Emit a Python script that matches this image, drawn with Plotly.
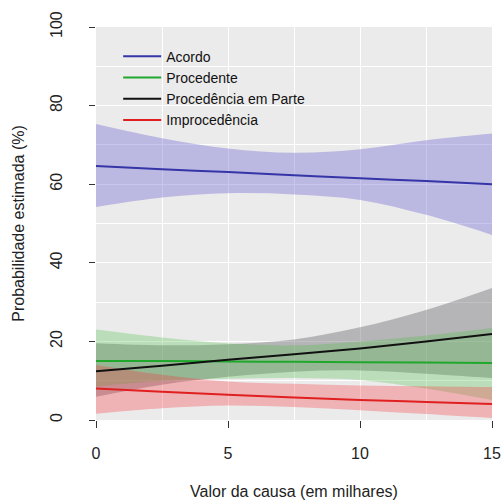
import plotly.graph_objects as go

x_vals = [0, 2.5, 5, 7.5, 10, 12.5, 15]

acordo = [64.6, 63.8, 63.1, 62.3, 61.5, 60.8, 60.0]
acordo_up = [75.3, 71.7, 69.1, 68.0, 68.9, 71.2, 72.9]
acordo_lo = [54.2, 56.6, 57.7, 57.4, 56.0, 52.2, 47.1]

procedente = [15.0, 15.0, 14.9, 14.8, 14.7, 14.6, 14.5]
procedente_up = [23.0, 21.0, 19.5, 19.0, 20.0, 21.5, 23.4]
procedente_lo = [8.5, 10.0, 10.5, 10.7, 10.2, 8.0, 5.1]

parte = [12.4, 13.8, 15.3, 16.7, 18.2, 20.0, 21.9]
parte_up = [19.5, 19.0, 19.3, 20.5, 23.6, 28.0, 33.6]
parte_lo = [5.9, 9.0, 11.0, 12.3, 12.6, 11.8, 10.7]

improc = [8.0, 7.2, 6.4, 5.7, 5.1, 4.6, 4.1]
improc_up = [14.0, 11.5, 9.8, 9.2, 8.8, 8.6, 8.4]
improc_lo = [1.6, 3.0, 3.7, 3.3, 2.5, 1.5, 0.5]

x_ticks = [0, 5, 10, 15]
y_ticks = [0, 20, 40, 60, 80, 100]

series = [
    ("Acordo", acordo, acordo_up, acordo_lo, "#3535a8", "rgba(110,105,210,0.38)"),
    ("Procedente", procedente, procedente_up, procedente_lo, "#1fa82c", "rgba(80,190,70,0.30)"),
    ("Procedência em Parte", parte, parte_up, parte_lo, "#111111", "rgba(100,100,105,0.40)"),
    ("Improcedência", improc, improc_up, improc_lo, "#e02020", "rgba(250,50,60,0.30)"),
]
band_order = [0, 2, 1, 3]

fig = go.Figure()
for i in band_order:
    name, line, up, lo, lc, fc = series[i]
    fig.add_trace(go.Scatter(x=x_vals, y=lo, mode="lines", line=dict(width=0, shape="spline"),
                             showlegend=False, hoverinfo="skip"))
    fig.add_trace(go.Scatter(x=x_vals, y=up, mode="lines", line=dict(width=0, shape="spline"),
                             fill="tonexty", fillcolor=fc, showlegend=False, hoverinfo="skip"))
for name, line, up, lo, lc, fc in series:
    fig.add_trace(go.Scatter(x=x_vals, y=line, mode="lines", name=name,
                             line=dict(color=lc, width=2, shape="spline")))

font_family = "Liberation Sans, Arial, sans-serif"
fig.update_layout(
    width=503, height=503,
    margin=dict(l=96, r=11, t=27, b=83),
    paper_bgcolor="white",
    plot_bgcolor="#ebebeb",
    font=dict(family=font_family, size=16, color="#222222"),
    showlegend=True,
    legend=dict(x=0.056, y=0.965, xanchor="left", yanchor="top", traceorder="normal",
                bgcolor="rgba(0,0,0,0)", font=dict(size=14, color="#111111"),
                tracegroupgap=0, itemwidth=38),
    xaxis=dict(range=[0, 15], tickvals=x_ticks, ticks="outside", ticklen=7,
               tickcolor="#333333", showline=False, zeroline=False, automargin=False,
               showgrid=True, gridcolor="white", gridwidth=1,
               minor=dict(showgrid=True, gridcolor="white", tickvals=[2.5, 7.5, 12.5]),
               tickfont=dict(size=16), ticklabelstandoff=12,
               title=dict(text="Valor da causa (em milhares)", font=dict(size=16), standoff=24)),
    yaxis=dict(range=[0, 100], tickvals=y_ticks, ticks="outside", ticklen=6,
               tickcolor="#333333", showline=False, zeroline=False, automargin=False,
               showgrid=False, tickangle=-90,
               minor=dict(showgrid=True, gridcolor="white", gridwidth=1,
                          tickvals=[10, 20, 30, 40, 50, 60, 70, 80, 90]),
               tickfont=dict(size=16), ticklabelstandoff=21,
               title=dict(text="Probabilidade estimada (%)", font=dict(size=16), standoff=18)),
)

fig.write_html("out.html", config={"displayModeBar": False},
               post_script="document.body.style.margin='0';")
